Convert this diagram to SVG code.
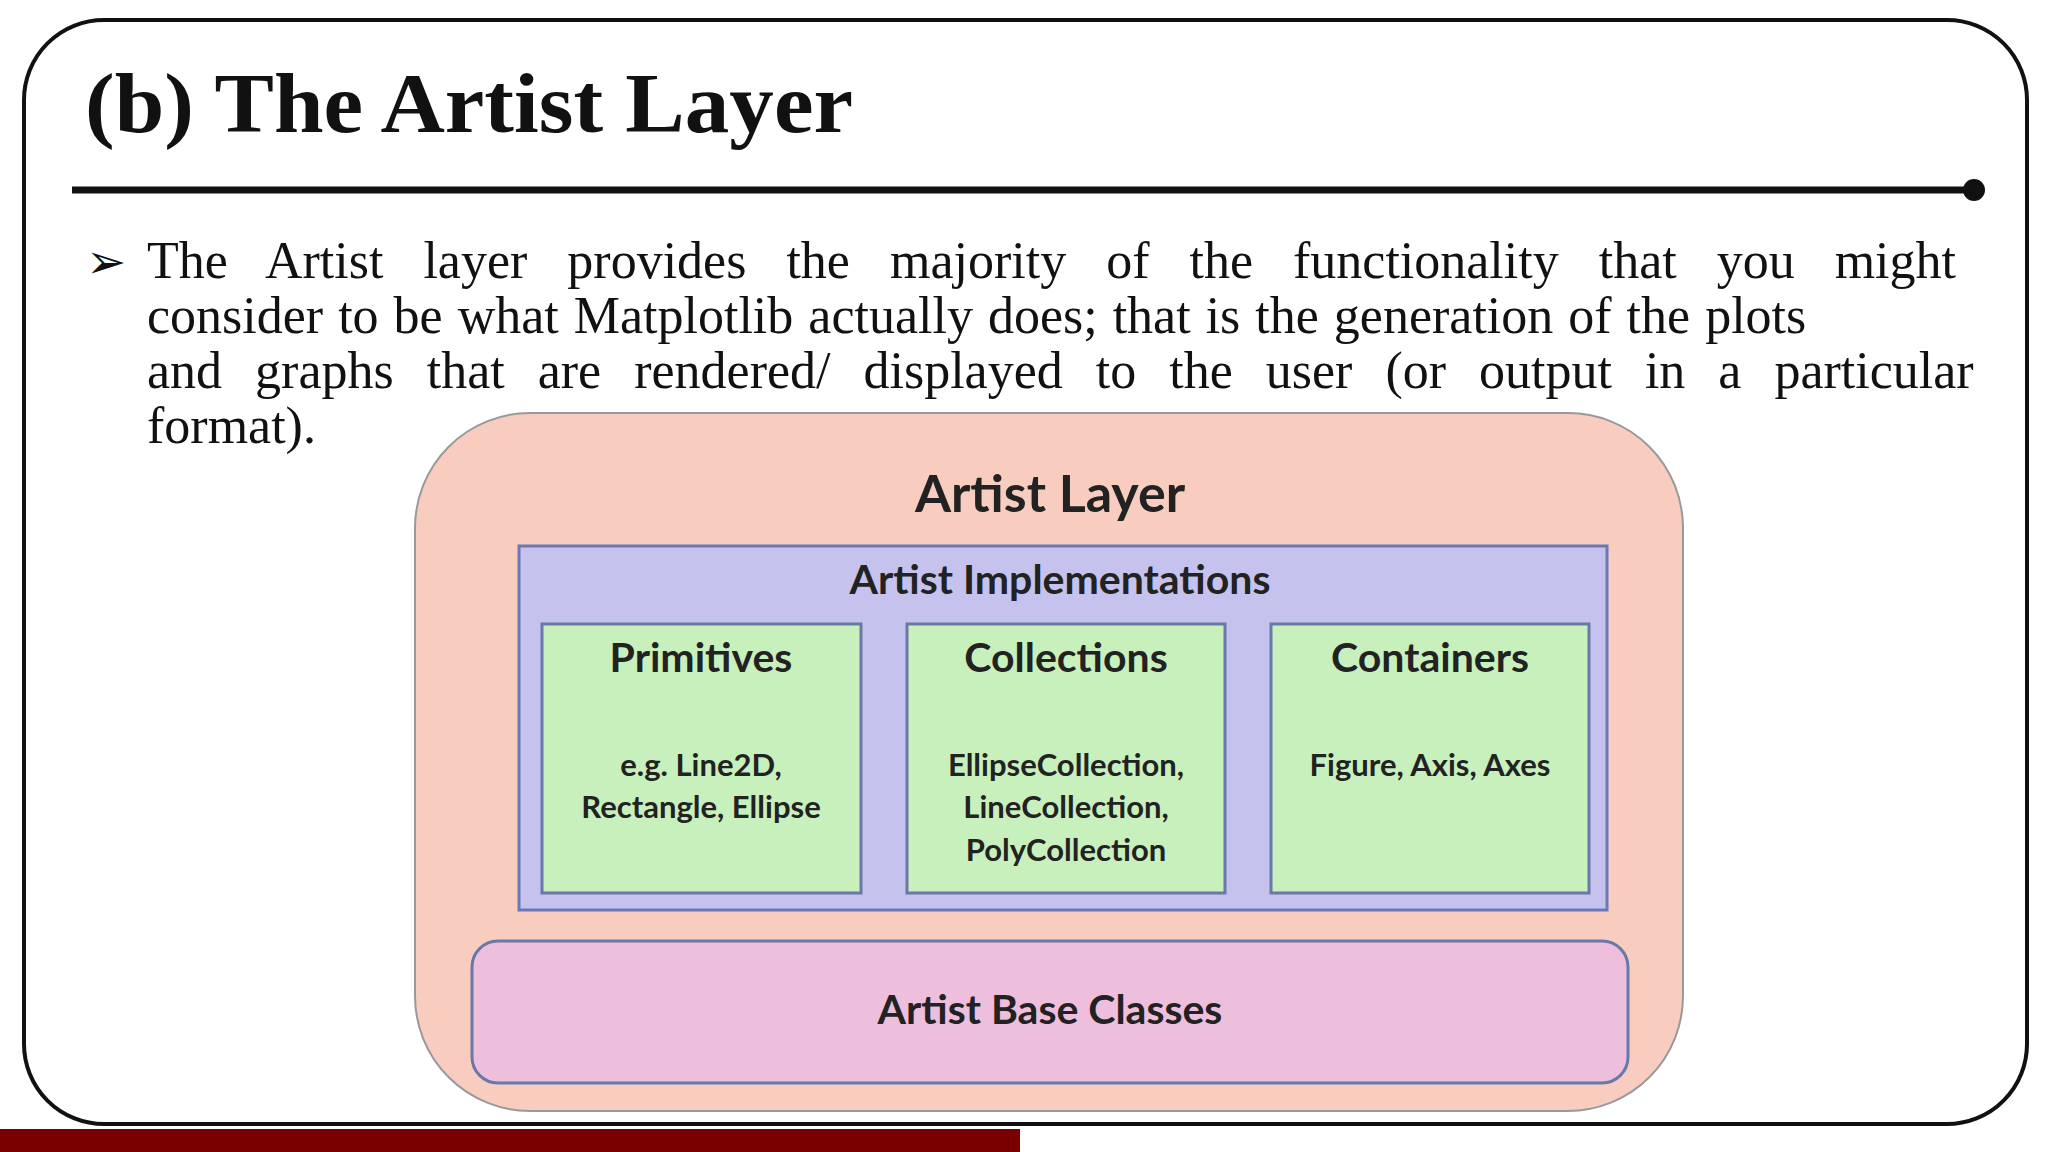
<svg xmlns="http://www.w3.org/2000/svg" width="2048" height="1152" viewBox="0 0 2048 1152">
<style>
.serif{font-family:"Liberation Serif","DejaVu Serif",serif;fill:#111}
.sans{font-family:Lato,"Noto Sans",sans-serif;fill:#222;text-anchor:middle;font-weight:bold}
.green{fill:#c8f0bd;stroke:#6a78a8;stroke-width:3}
</style>
<rect width="2048" height="1152" fill="#fff"/>
<rect x="24" y="20" width="2003" height="1104" rx="80" fill="#fff" stroke="#111" stroke-width="4"/>
<text class="serif" x="85" y="132" font-size="84" font-weight="bold" textLength="768" lengthAdjust="spacingAndGlyphs">(b) The Artist Layer</text>
<line x1="72" y1="190" x2="1972" y2="190" stroke="#111" stroke-width="7"/>
<circle cx="1974" cy="190" r="11" fill="#111"/>
<g class="serif" font-size="52">
<text x="86" y="278" font-size="48">➢</text>
<text x="147" y="278" word-spacing="27">The Artist layer provides the majority of the functionality that you might</text>
<text x="147" y="333" word-spacing="2">consider to be what Matplotlib actually does; that is the generation of the plots</text>
<text x="147" y="388" word-spacing="20">and graphs that are rendered/ displayed to the user (or output in a particular</text>
<text x="147" y="443">format).</text>
</g>
<g id="artist-layer">
<rect x="415" y="413" width="1268" height="698" rx="115" fill="#f8cdc0" stroke="#999" stroke-width="2"/>
<text class="sans" x="1050" y="512" font-size="52">Artist Layer</text>
</g>
<g id="implementations">
<rect x="519" y="546" width="1088" height="364" fill="#c5c3ee" stroke="#6a78b8" stroke-width="3"/>
<text class="sans" x="1060" y="594" font-size="41">Artist Implementations</text>
</g>
<g id="primitives">
<rect class="green" x="542" y="624" width="319" height="269"/>
<text class="sans" x="701" y="672" font-size="41">Primitives</text>
<text class="sans" x="701" y="776" font-size="31">e.g. Line2D,</text>
<text class="sans" x="701" y="818" font-size="31">Rectangle, Ellipse</text>
</g>
<g id="collections">
<rect class="green" x="907" y="624" width="318" height="269"/>
<text class="sans" x="1066" y="672" font-size="41">Collections</text>
<text class="sans" x="1066" y="776" font-size="31">EllipseCollection,</text>
<text class="sans" x="1066" y="818" font-size="31">LineCollection,</text>
<text class="sans" x="1066" y="861" font-size="31">PolyCollection</text>
</g>
<g id="containers">
<rect class="green" x="1271" y="624" width="318" height="269"/>
<text class="sans" x="1430" y="672" font-size="41">Containers</text>
<text class="sans" x="1430" y="776" font-size="31">Figure, Axis, Axes</text>
</g>
<g id="base-classes">
<rect x="472" y="941" width="1156" height="142" rx="26" fill="#eebedd" stroke="#6a78a8" stroke-width="3"/>
<text class="sans" x="1050" y="1024" font-size="41">Artist Base Classes</text>
</g>
<g id="connectors"/>
<rect x="0" y="1129" width="1020" height="23" fill="#7a0000"/>
</svg>
